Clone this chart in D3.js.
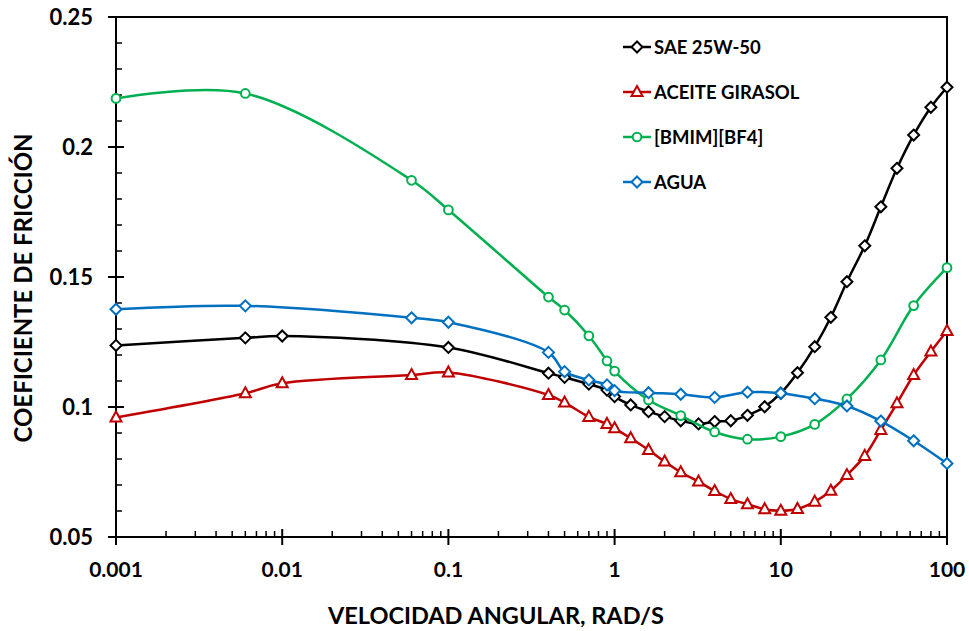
<!DOCTYPE html>
<html><head><meta charset="utf-8">
<script src="https://cdn.jsdelivr.net/npm/d3@7"></script>
<style>body{margin:0;background:#fff}svg{display:block}text{font-family:Lato,"Open Sans",sans-serif;font-weight:bold}</style>
</head><body><svg id="c" width="969" height="631"></svg>
<script>
const xSAE = [0.001,0.006,0.01,0.1,0.4,0.5,0.7,0.9,1,1.25,1.6,2,2.5,3.2,4,5,6.3,8,10,12.6,16,20,25,32,40,50,63,80,100];
const ySAE = [0.1237,0.1266,0.1273,0.1229,0.1130,0.1114,0.1088,0.1065,0.1040,0.1008,0.0982,0.0963,0.0947,0.0935,0.0944,0.0947,0.0968,0.1001,0.1053,0.1132,0.1232,0.1345,0.1482,0.1620,0.1770,0.1918,0.2046,0.2153,0.2230];
const xGir = [0.001,0.006,0.01,0.06,0.1,0.4,0.5,0.7,0.9,1,1.25,1.6,2,2.5,3.2,4,5,6.3,8,10,12.6,16,20,25,32,40,50,63,80,100];
const yGir = [0.0960,0.1053,0.1091,0.1123,0.1133,0.1046,0.1017,0.0962,0.0935,0.0918,0.0880,0.0835,0.0790,0.0749,0.0713,0.0677,0.0646,0.0626,0.0607,0.0601,0.0608,0.0636,0.0678,0.0738,0.0812,0.0912,0.1014,0.1123,0.1213,0.1292];
const xBm = [0.001,0.006,0.06,0.1,0.4,0.5,0.7,0.9,1,1.6,2.5,4,6.3,10,16,25,40,63,100];
const yBm = [0.2187,0.2206,0.1872,0.1758,0.1423,0.1373,0.1274,0.1177,0.1138,0.1027,0.0967,0.0904,0.0876,0.0886,0.0933,0.1031,0.1181,0.1390,0.1536];
const xAg = [0.001,0.006,0.06,0.1,0.4,0.5,0.7,0.9,1,1.6,2.5,4,6.3,10,16,25,40,63,100];
const yAg = [0.1376,0.1389,0.1343,0.1326,0.1210,0.1136,0.1104,0.1085,0.1063,0.1055,0.1049,0.1037,0.1057,0.1053,0.1032,0.1004,0.0946,0.0870,0.0783];
const seriesNames = ["SAE 25W-50","ACEITE GIRASOL","[BMIM][BF4]","AGUA"];
const seriesColors = ["#000000","#C00000","#00B050","#0070C0"];
const seriesMarkers = ["diamond","triangle","circle","diamond"];
const xTicks = [0.001,0.01,0.1,1,10,100];
const xTickLabels = ["0.001","0.01","0.1","1","10","100"];
const yTicks = [0.05,0.1,0.15,0.2,0.25];
const yTickLabels = ["0.05","0.1","0.15","0.2","0.25"];
const xTitle = "VELOCIDAD ANGULAR, RAD/S";
const yTitle = "COEFICIENTE DE FRICCIÓN";

const series = [[xSAE,ySAE],[xGir,yGir],[xBm,yBm],[xAg,yAg]].map((d,i)=>({
  name:seriesNames[i], color:seriesColors[i], marker:seriesMarkers[i],
  pts:d[0].map((x,j)=>({x, y:d[1][j]}))
}));

const L=116,R=947,T=17,B=537;
const svg=d3.select("#c");
const x=d3.scaleLog().domain([0.001,100]).range([L,R]);
const y=d3.scaleLinear().domain([0.05,0.25]).range([B,T]);

const xMinor=[];
for(let e=-3;e<2;e++) for(let k=2;k<=9;k++) xMinor.push(k*Math.pow(10,e));
const yMinor=d3.range(0,21).map(i=>0.05+i*0.01).filter(v=>!yTicks.some(t=>Math.abs(t-v)<1e-9));

const g=svg.append("g");
g.append("rect").attr("x",L).attr("y",T).attr("width",R-L).attr("height",B-T)
  .attr("fill","none").attr("stroke","#000").attr("stroke-width",2);

g.selectAll(".xmin").data(xMinor).join("line")
  .attr("x1",d=>x(d)).attr("x2",d=>x(d)).attr("y1",B).attr("y2",B-6)
  .attr("stroke","#000").attr("stroke-width",1.5);
g.selectAll(".xmaj").data(xTicks).join("line")
  .attr("x1",d=>x(d)).attr("x2",d=>x(d)).attr("y1",B+8).attr("y2",B-8)
  .attr("stroke","#000").attr("stroke-width",2);
g.selectAll(".ymin").data(yMinor).join("line")
  .attr("x1",L).attr("x2",L+6).attr("y1",d=>y(d)).attr("y2",d=>y(d))
  .attr("stroke","#000").attr("stroke-width",1.5);
g.selectAll(".ymaj").data(yTicks).join("line")
  .attr("x1",L-8).attr("x2",L+8).attr("y1",d=>y(d)).attr("y2",d=>y(d))
  .attr("stroke","#000").attr("stroke-width",2);

g.selectAll(".xl").data(xTicks).join("text")
  .attr("x",d=>x(d)).attr("y",577).attr("text-anchor","middle")
  .attr("font-size",21).text((d,i)=>xTickLabels[i]);
g.selectAll(".yl").data(yTicks).join("text")
  .attr("x",93).attr("y",d=>y(d)+7.5).attr("text-anchor","end")
  .attr("font-size",22).text((d,i)=>yTickLabels[i]);

svg.append("text").attr("x",496).attr("y",624).attr("text-anchor","middle")
  .attr("font-size",23.5).text(xTitle);
svg.append("text").attr("transform",`translate(32,288) rotate(-90)`)
  .attr("text-anchor","middle").attr("font-size",24).text(yTitle);

function markerPath(type){
  if(type==="diamond") return "M0,-5.5L5.5,0L0,5.5L-5.5,0Z";
  if(type==="triangle") return "M0,-6L5.5,4L-5.5,4Z";
  return d3.symbol(d3.symbolCircle,60)();
}

const line=d3.line().x(d=>x(d.x)).y(d=>y(d.y)).curve(d3.curveCatmullRom.alpha(0.5));
series.forEach(s=>{
  const sg=svg.append("g");
  sg.append("path").attr("d",line(s.pts)).attr("fill","none")
    .attr("stroke",s.color).attr("stroke-width",2.5);
  sg.selectAll("path.m").data(s.pts).join("path").attr("class","m")
    .attr("transform",d=>`translate(${x(d.x)},${y(d.y)})`)
    .attr("d",markerPath(s.marker)).attr("fill","#fff")
    .attr("stroke",s.color).attr("stroke-width",2);
});

const lg=svg.append("g");
series.forEach((s,i)=>{
  const yy=47+i*45;
  lg.append("line").attr("x1",623).attr("x2",651).attr("y1",yy).attr("y2",yy)
    .attr("stroke",s.color).attr("stroke-width",2.5);
  lg.append("path").attr("transform",`translate(637,${yy})`).attr("d",markerPath(s.marker))
    .attr("fill","#fff").attr("stroke",s.color).attr("stroke-width",2);
  lg.append("text").attr("x",654).attr("y",yy+6.5).attr("font-size",18.5).text(s.name);
});
</script></body></html>
